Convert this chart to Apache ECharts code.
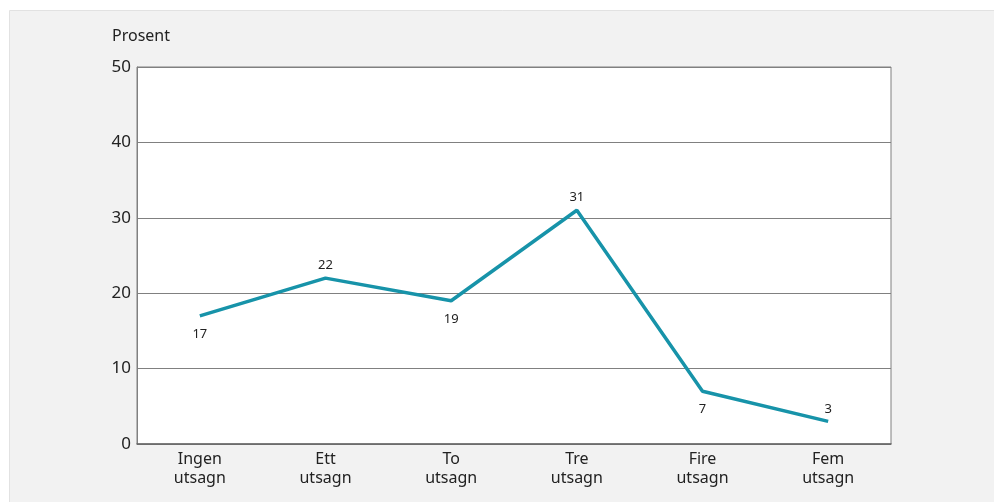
<!DOCTYPE html>
<html><head><meta charset="utf-8">
<script src="https://cdn.jsdelivr.net/npm/echarts@6/dist/echarts.min.js"></script>
<style>html,body{margin:0;padding:0;background:#fff}#c{width:994px;height:502px}</style>
</head><body><div id="c"></div>
<script>
const categories = ['Ingen\nutsagn','Ett\nutsagn','To\nutsagn','Tre\nutsagn','Fire\nutsagn','Fem\nutsagn'];
const values = [17, 22, 19, 31, 7, 3];
const labelPositions = ['bottom','top','bottom','top','bottom','top'];
const yTicks = [0, 10, 20, 30, 40, 50];
const yTitle = 'Prosent';

const font = '"Noto Sans", "Open Sans", sans-serif';
const chart = echarts.init(document.getElementById('c'), null, {renderer: 'canvas'});
chart.setOption({
  animation: false,
  graphic: [
    {type: 'rect', left: 9, top: 10, shape: {width: 990, height: 500}, style: {fill: '#f2f2f2', stroke: '#e2e2e2', lineWidth: 1}, z: -10},
    {type: 'text', left: 112, top: 28, style: {text: yTitle, font: '16px ' + font, fill: '#222'}}
  ],
  grid: {left: 137, right: 103, top: 67, bottom: 58, show: true, backgroundColor: '#fff', borderColor: '#808080', borderWidth: 1},
  xAxis: {
    type: 'category', data: categories, boundaryGap: true,
    axisLine: {show: true, lineStyle: {color: '#666', width: 1.5}},
    axisTick: {show: false},
    axisLabel: {color: '#222', fontSize: 16, fontFamily: font, lineHeight: 19, margin: 6}
  },
  yAxis: {
    type: 'value', min: yTicks[0], max: yTicks[yTicks.length-1], interval: 10,
    axisLine: {show: true, lineStyle: {color: '#808080'}},
    axisTick: {show: false},
    splitLine: {show: true, lineStyle: {color: '#808080', width: 1}},
    axisLabel: {color: '#222', fontSize: 17, fontFamily: font, margin: 6}
  },
  series: [{
    type: 'line',
    data: values.map((v, i) => ({value: v, label: {show: true, position: labelPositions[i], distance: labelPositions[i] === 'top' ? 5 : 11}})),
    showSymbol: true, symbol: 'circle', symbolSize: 2,
    lineStyle: {color: '#1793a9', width: 3.5},
    itemStyle: {color: 'rgba(23,147,169,0)', borderWidth: 0},
    label: {show: true, color: '#222', fontSize: 13, fontFamily: font},
    labelLayout: {hideOverlap: false}
  }]
});
</script></body></html>
